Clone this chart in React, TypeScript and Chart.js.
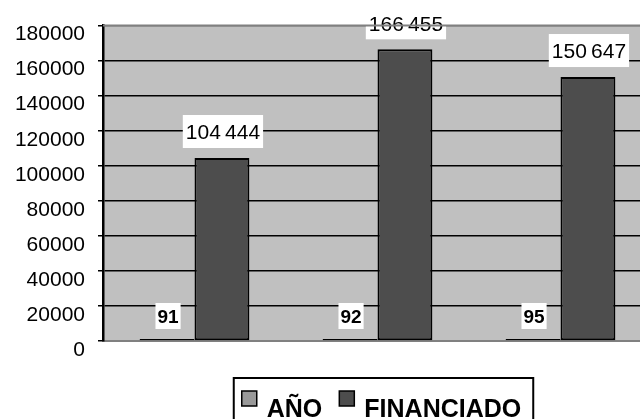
import React, { useEffect, useRef } from "react";
import { Chart, registerables } from "chart.js";

Chart.register(...registerables);

const categories = ["91", "92", "95"];
const seriesNames = ["AÑO", "FINANCIADO"];
const anoValues = [91, 92, 95];
const financiadoValues = [104444, 166455, 150647];
const yMin = 0;
const yMax = 180000;
const yStep = 20000;

const seriesColors = ["#999999", "#4d4d4d"];
const FONT = "'Liberation Sans', Arial, sans-serif";

const W = 660;
const H = 440;

function fmt(v: number): string {
  return String(v).replace(/\B(?=(\d{3})+(?!\d))/g, "\u2009");
}

const customPlugin = {
  id: "customDraw",
  beforeDraw(chart: any) {
    const { ctx, chartArea: a } = chart;
    ctx.save();
    ctx.fillStyle = "#c0c0c0";
    ctx.fillRect(a.left, a.top, a.right - a.left, a.bottom - a.top);
    ctx.restore();
  },
  afterDatasetsDraw(chart: any) {
    const { ctx, chartArea: a } = chart;
    ctx.save();
    chart.data.datasets.forEach((ds: any, di: number) => {
      const meta = chart.getDatasetMeta(di);
      const bold = di === 0;
      const size = bold ? 19 : 21;
      ctx.font = `${bold ? "bold " : ""}${size}px ${FONT}`;
      meta.data.forEach((el: any, i: number) => {
        const txt = fmt(ds.data[i]);
        const tw = ctx.measureText(txt).width;
        const padX = bold ? 2 : 3;
        const boxW = tw + padX * 2;
        const boxH = bold ? 26 : 33;
        const gap = 10;
        const cx = el.x + 1;
        const bottom = el.y - gap;
        ctx.fillStyle = "#ffffff";
        ctx.fillRect(cx - boxW / 2, bottom - boxH, boxW, boxH);
        ctx.fillStyle = "#000000";
        ctx.textAlign = "center";
        ctx.textBaseline = "middle";
        ctx.fillText(txt, cx, bottom - boxH / 2 + 2);
      });
    });
    ctx.strokeStyle = "#808080";
    ctx.lineWidth = 2;
    ctx.beginPath();
    ctx.moveTo(a.left, a.top);
    ctx.lineTo(a.right, a.top);
    ctx.stroke();
    ctx.restore();
  },
  afterDraw(chart: any) {
    const { ctx } = chart;
    ctx.save();
    ctx.font = `bold 25px ${FONT}`;
    const sq = 15;
    const padL = 8;
    const gapSq = 10;
    const gapItem = 17;
    const padR = 12;
    const widths = seriesNames.map((n) => ctx.measureText(n).width);
    let total = padL + padR;
    widths.forEach((w, i) => {
      total += sq + gapSq + w + (i < widths.length - 1 ? gapItem : 0);
    });
    const centerX = 383.5;
    const boxLeft = centerX - total / 2;
    const boxTop = 378;
    ctx.strokeStyle = "#000";
    ctx.lineWidth = 2;
    ctx.strokeRect(boxLeft, boxTop, total, 80);
    let x = boxLeft + padL;
    seriesNames.forEach((n, i) => {
      ctx.fillStyle = seriesColors[i];
      ctx.fillRect(x, 391, sq, sq);
      ctx.strokeStyle = "#000";
      ctx.lineWidth = 1.5;
      ctx.strokeRect(x, 391, sq, sq);
      x += sq + gapSq;
      ctx.fillStyle = "#000";
      ctx.textAlign = "left";
      ctx.textBaseline = "alphabetic";
      ctx.fillText(n, x, 417);
      x += widths[i] + gapItem;
    });
    ctx.restore();
  },
};

export default function App() {
  const ref = useRef<HTMLCanvasElement | null>(null);

  useEffect(() => {
    if (!ref.current) return;
    const chart = new Chart(ref.current, {
      type: "bar",
      data: {
        labels: categories,
        datasets: [
          {
            label: seriesNames[0],
            data: anoValues,
            backgroundColor: seriesColors[0],
            borderColor: "#000",
            borderWidth: 2,
            borderSkipped: false,
            minBarLength: 2,
            categoryPercentage: 0.6,
            barPercentage: 1,
          },
          {
            label: seriesNames[1],
            data: financiadoValues,
            backgroundColor: seriesColors[1],
            borderColor: "#000",
            borderWidth: 2,
            borderSkipped: false,
            categoryPercentage: 0.6,
            barPercentage: 1,
          },
        ],
      },
      options: {
        responsive: false,
        animation: false,
        devicePixelRatio: 1,
        layout: { padding: { top: 23, right: 8, left: 0, bottom: 99 } },
        plugins: {
          legend: { display: false },
          tooltip: { enabled: false },
        },
        scales: {
          x: {
            ticks: { display: false },
            grid: { display: false },
            border: { color: "#808080", width: 2 },
            afterFit: (s: any) => {
              s.height = 0;
            },
          },
          y: {
            min: yMin,
            max: yMax,
            ticks: {
              stepSize: yStep,
              color: "#000",
              font: { family: FONT, size: 21 },
              padding: 13,
              labelOffset: 9,
              callback: (v: any) => String(v),
            },
            grid: {
              color: (c: any) =>
                c.tick && c.tick.value === yMin
                  ? "rgba(0,0,0,0)"
                  : c.tick && c.tick.value === yMax
                  ? "#808080"
                  : "#000",
              tickColor: "#000",
              lineWidth: 1.5,
              tickLength: 5,
            },
            border: { color: "#000", width: 2.5 },
            afterFit: (s: any) => {
              s.width = 103;
            },
          },
        },
      },
      plugins: [customPlugin],
    });
    return () => chart.destroy();
  }, []);

  return (
    <div
      style={{
        position: "fixed",
        left: 0,
        top: 0,
        width: 640,
        height: 419,
        overflow: "hidden",
        background: "#fff",
      }}
    >
      <canvas ref={ref} width={W} height={H} style={{ display: "block", width: W, height: H }} />
    </div>
  );
}
